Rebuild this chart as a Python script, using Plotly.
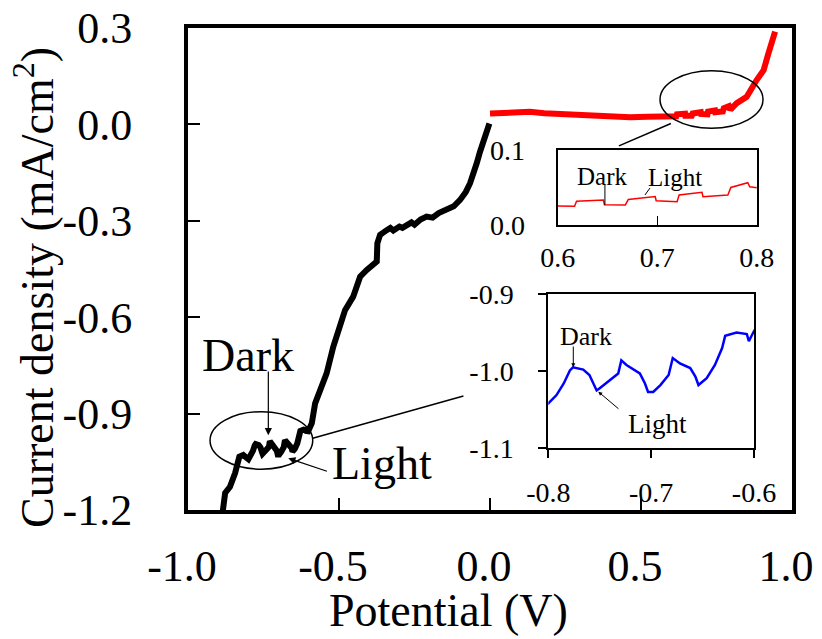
import plotly.graph_objects as go

# ---------------- data ----------------
# black: cathodic scan (Potential V, current density mA/cm2)
black_v = [-0.885, -0.877, -0.861, -0.844, -0.830, -0.817, -0.800, -0.792, -0.785, -0.779,
           -0.776, -0.766, -0.760, -0.755, -0.753, -0.750, -0.737, -0.732, -0.729, -0.724,
           -0.711, -0.706, -0.703, -0.698, -0.691, -0.683, -0.679, -0.672, -0.662, -0.657,
           -0.654, -0.646, -0.638, -0.631, -0.628, -0.617, -0.607, -0.605, -0.600,
           -0.590, -0.579, -0.563, -0.541, -0.519, -0.497, -0.480, -0.453, -0.430, -0.408,
           -0.386, -0.375, -0.373, -0.364, -0.342, -0.330, -0.320, -0.300, -0.290, -0.276,
           -0.260, -0.250, -0.230, -0.210, -0.190, -0.170, -0.143, -0.120, -0.099, -0.080,
           -0.066, -0.055, -0.044, -0.033, -0.022, -0.010, -0.002]
black_j = [-1.205, -1.147, -1.128, -1.085, -1.034, -1.029, -1.042, -1.031, -1.016, -0.999,
           -0.995, -0.998, -1.005, -1.020, -1.025, -1.022, -1.009, -1.003, -0.986, -0.992,
           -1.003, -1.016, -1.027, -1.027, -1.018, -1.005, -0.983, -0.990, -0.996, -1.007,
           -1.018, -1.009, -0.992, -0.970, -0.954, -0.950, -0.952, -0.961, -0.948,
           -0.930, -0.868, -0.827, -0.775, -0.692, -0.630, -0.578, -0.536, -0.474, -0.453,
           -0.438, -0.427, -0.370, -0.344, -0.329, -0.322, -0.330, -0.318, -0.322, -0.313,
           -0.305, -0.312, -0.296, -0.287, -0.290, -0.276, -0.266, -0.255, -0.235, -0.210,
           -0.183, -0.155, -0.121, -0.085, -0.049, -0.020, 0.003]

# red: anodic scan
red_v = [0.000, 0.050, 0.100, 0.132, 0.180, 0.220, 0.260, 0.298, 0.350, 0.400, 0.464, 0.520,
         0.585, 0.600, 0.617, 0.619, 0.646, 0.647, 0.668, 0.671, 0.689, 0.698, 0.699, 0.720,
         0.722, 0.745, 0.746, 0.771, 0.774, 0.791, 0.793, 0.800, 0.817, 0.850, 0.883, 0.906,
         0.922, 0.944]
red_j = [0.034, 0.037, 0.038, 0.039, 0.035, 0.033, 0.031, 0.029, 0.027, 0.024, 0.022, 0.024,
         0.024, 0.0253, 0.025, 0.0316, 0.0333, 0.027, 0.0267, 0.034, 0.037, 0.038, 0.0324, 0.031,
         0.040, 0.0436, 0.0378, 0.040, 0.050, 0.0564, 0.051, 0.0498, 0.066, 0.086, 0.138, 0.169,
         0.221, 0.289]

main_xticks = [-1.0, -0.5, 0.0, 0.5, 1.0]
main_yticks = [0.3, 0.0, -0.3, -0.6, -0.9, -1.2]
top_xticks = [0.6, 0.7, 0.8]
top_yticks = [0.0, 0.1]
bot_xticks = [-0.8, -0.7, -0.6]
bot_yticks = [-0.9, -1.0, -1.1]

FONT = "Liberation Serif"

fig = go.Figure()
fig.add_trace(go.Scatter(x=black_v, y=black_j, mode="lines",
                         line=dict(color="black", width=6), xaxis="x", yaxis="y"))
fig.add_trace(go.Scatter(x=red_v, y=red_j, mode="lines",
                         line=dict(color="red", width=6), xaxis="x", yaxis="y"))
fig.add_trace(go.Scatter(x=red_v, y=red_j, mode="lines",
                         line=dict(color="red", width=1.5), xaxis="x2", yaxis="y2"))
fig.add_trace(go.Scatter(x=black_v, y=black_j, mode="lines",
                         line=dict(color="blue", width=2.5), xaxis="x3", yaxis="y3"))

def tickfmt(vals, fmt="{:.1f}"):
    return [fmt.format(v) for v in vals]

ax_common = dict(showgrid=False, zeroline=False, showline=True, linecolor="black",
                 mirror=True, tickcolor="black", automargin=False)

fig.update_layout(
    template="none",
    width=822, height=639,
    margin=dict(l=188, r=30, t=28, b=129, autoexpand=False),
    paper_bgcolor="white", plot_bgcolor="white",
    showlegend=False,
    font=dict(family=FONT, color="black"),
    xaxis=dict(ax_common, range=[-1.0, 1.0], domain=[0, 1], linewidth=4,
               tickvals=main_xticks, ticktext=tickfmt(main_xticks),
               ticks="inside", ticklen=12, tickwidth=1.5,
               tickfont=dict(size=44, family=FONT), ticklabelstandoff=14,
               ticklabelshift=-6),
    yaxis=dict(ax_common, range=[-1.2, 0.3], domain=[0, 1], linewidth=4,
               tickvals=main_yticks, ticktext=tickfmt(main_yticks),
               ticks="inside", ticklen=12, tickwidth=1.5,
               tickfont=dict(size=44, family=FONT), ticklabelstandoff=43),
    xaxis2=dict(ax_common, range=[0.6, 0.8], domain=[0.612, 0.9416], anchor="y2",
                linewidth=2, tickvals=top_xticks, ticktext=tickfmt(top_xticks),
                ticks="inside", ticklen=9, tickwidth=1,
                tickfont=dict(size=28, family=FONT), ticklabelstandoff=6),
    yaxis2=dict(ax_common, range=[0.0, 0.1], domain=[0.5913, 0.7469], anchor="x2",
                linewidth=2, tickvals=top_yticks, ticktext=tickfmt(top_yticks),
                ticks="inside", ticklen=9, tickwidth=1,
                tickfont=dict(size=28, family=FONT), ticklabelstandoff=25),
    xaxis3=dict(ax_common, range=[-0.8, -0.6], domain=[0.5965, 0.9371], anchor="y3",
                linewidth=2, tickvals=bot_xticks, ticktext=tickfmt(bot_xticks),
                ticks="outside", ticklen=8, tickwidth=1.5,
                tickfont=dict(size=28, family=FONT), ticklabelstandoff=10),
    yaxis3=dict(ax_common, range=[-1.1, -0.9], domain=[0.128, 0.4481], anchor="x3",
                linewidth=2, tickvals=bot_yticks, ticktext=tickfmt(bot_yticks),
                ticks="outside", ticklen=8, tickwidth=1.5,
                tickfont=dict(size=28, family=FONT), ticklabelstandoff=19),
)

# ellipses and connector lines
shapes = [
    dict(type="circle", xref="x", yref="y", x0=0.563, x1=0.904, y0=-0.012, y1=0.167,
         line=dict(color="black", width=1.5)),
    dict(type="circle", xref="x", yref="y", x0=-0.927, x1=-0.587, y0=-1.073, y1=-0.894,
         line=dict(color="black", width=1.5)),
    dict(type="line", xref="x", yref="y", x0=0.599, y0=0.003, x1=0.427, y1=-0.067,
         line=dict(color="black", width=1.5)),
    dict(type="line", xref="x", yref="y", x0=-0.587, y0=-0.977, x1=-0.088, y1=-0.845,
         line=dict(color="black", width=1.5)),
    dict(type="line", xref="x2", yref="y2", x0=0.6475, y0=0.0533, x1=0.6475, y1=0.0267,
         line=dict(color="black", width=1)),
    dict(type="line", xref="x2", yref="y2", x0=0.6928, y0=0.0493, x1=0.6877, y1=0.040,
         line=dict(color="black", width=1)),
]
fig.update_layout(shapes=shapes)

ann = []
# main labels
ann.append(dict(x=-0.801, y=-0.718, xref="x", yref="y", text="Dark", showarrow=False,
                xanchor="center", yanchor="middle", font=dict(size=46, family=FONT)))
ann.append(dict(x=-0.358, y=-1.054, xref="x", yref="y", text="Light", showarrow=False,
                xanchor="center", yanchor="middle", font=dict(size=46, family=FONT)))
ann.append(dict(x=-0.734, y=-0.967, ax=-0.734, ay=-0.764, xref="x", yref="y",
                axref="x", ayref="y", text="", showarrow=True, arrowhead=2,
                arrowsize=1.2, arrowwidth=1.2, arrowcolor="black"))
ann.append(dict(x=-0.668, y=-1.039, ax=-0.535, ay=-1.081, xref="x", yref="y",
                axref="x", ayref="y", text="", showarrow=True, arrowhead=2,
                arrowsize=1.2, arrowwidth=1.2, arrowcolor="black"))
# top inset labels
ann.append(dict(x=0.6445, y=0.0653, xref="x2", yref="y2", text="Dark", showarrow=False,
                xanchor="center", yanchor="middle", font=dict(size=25, family=FONT)))
ann.append(dict(x=0.7174, y=0.0627, xref="x2", yref="y2", text="Light", showarrow=False,
                xanchor="center", yanchor="middle", font=dict(size=25, family=FONT)))
# bottom inset labels
ann.append(dict(x=-0.7629, y=-0.9557, xref="x3", yref="y3", text="Dark", showarrow=False,
                xanchor="center", yanchor="middle", font=dict(size=26, family=FONT)))
ann.append(dict(x=-0.6938, y=-1.0685, xref="x3", yref="y3", text="Light", showarrow=False,
                xanchor="center", yanchor="middle", font=dict(size=27, family=FONT)))
ann.append(dict(x=-0.7757, y=-0.995, ax=-0.7757, ay=-0.9661, xref="x3", yref="y3",
                axref="x3", ayref="y3", text="", showarrow=True, arrowhead=2,
                arrowsize=0.8, arrowwidth=1, arrowcolor="black"))
ann.append(dict(x=-0.7514, y=-1.0266, ax=-0.7303, ay=-1.0504, xref="x3", yref="y3",
                axref="x3", ayref="y3", text="", showarrow=True, arrowhead=2,
                arrowsize=0.8, arrowwidth=1, arrowcolor="black"))
# axis titles
ann.append(dict(x=0.432, y=-0.2085, xref="paper", yref="paper", text="Potential (V)",
                xanchor="center", yanchor="middle",
                showarrow=False, font=dict(size=46, family=FONT)))
ann.append(dict(x=-0.255, y=0.4627, xref="paper", yref="paper",
                text="Current density (mA/cm<sup>2</sup>)", textangle=-90,
                xanchor="center", yanchor="middle",
                showarrow=False, font=dict(size=46, family=FONT)))
fig.update_layout(annotations=ann)

fig.write_html("out.html")
